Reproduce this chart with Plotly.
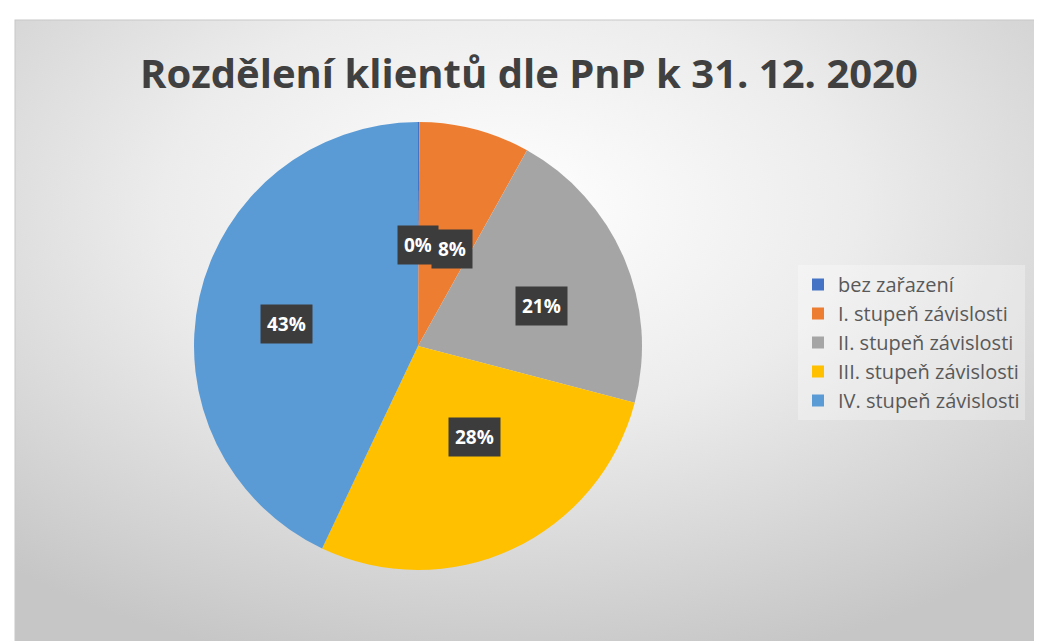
import math
import base64
import plotly.graph_objects as go

# ---- data ----
categories = ["bez zařazení", "I. stupeň závislosti", "II. stupeň závislosti",
              "III. stupeň závislosti", "IV. stupeň závislosti"]
values = [0.1, 8, 21, 28, 43]
colors = ["#4472C4", "#ED7D31", "#A5A5A5", "#FFC000", "#5B9BD5"]
title_text = "Rozdělení klientů dle PnP k 31. 12. 2020"

W, H = 1042, 641
# pie placement (pixels)
cx, cy, R = 410, 338, 224

fig = go.Figure()
fig.add_trace(go.Pie(
    labels=categories, values=values, sort=False, direction="clockwise",
    rotation=0, marker=dict(colors=colors, line=dict(width=0)),
    textinfo="none", hoverinfo="label+percent",
    domain=dict(x=[(cx - R) / W, (cx + R) / W], y=[(H - cy - R) / H, (H - cy + R) / H]),
))

# data labels in dark boxes, positioned at ~half radius along each slice's mid-angle
total = sum(values)
cum = 0
annotations = []
for v in values:
    mid = (cum + v / 2) / total * 2 * math.pi
    cum += v
    px = cx + 0.6 * R * math.sin(mid)
    py = cy - 0.45 * R * math.cos(mid)
    annotations.append(dict(
        x=px / W, y=1 - py / H, xref="paper", yref="paper", showarrow=False,
        text="<b>%d%%</b>" % round(v / total * 100),
        font=dict(family="Open Sans", size=19, color="white"),
        bgcolor="#3C3C3C", borderpad=6, xanchor="center", yanchor="middle",
    ))

# radial gradient background as inline SVG
svg = f'''<svg xmlns="http://www.w3.org/2000/svg" width="{W}" height="{H}">
<defs><radialGradient id="g" cx="48%" cy="30%" r="75%">
<stop offset="0%" stop-color="#FFFFFF"/><stop offset="45%" stop-color="#ECECEC"/>
<stop offset="100%" stop-color="#C6C6C6"/></radialGradient></defs>
<rect x="0" y="0" width="{W}" height="{H}" fill="#FFFFFF"/>
<rect x="7" y="12" width="{W-14}" height="{H-12}" fill="url(#g)" stroke="#C8C8C8" stroke-width="1"/>
</svg>'''
src = "data:image/svg+xml;base64," + base64.b64encode(svg.encode("utf-8")).decode()

fig.update_layout(
    width=W, height=H,
    margin=dict(l=0, r=0, t=0, b=0),
    paper_bgcolor="white",
    images=[dict(source=src, xref="paper", yref="paper", x=0, y=1, sizex=1, sizey=1,
                 xanchor="left", yanchor="top", sizing="stretch", layer="below")],
    title=dict(text=title_text, x=0.5, xanchor="center", y=1 - 66 / H, yanchor="middle",
               font=dict(family="Open Sans", size=40, color="#404040", weight="bold")),
    legend=dict(x=790 / W, y=1 - 257 / H, xanchor="left", yanchor="top",
                font=dict(family="Open Sans", size=20, color="#595959"),
                bgcolor="rgba(255,255,255,0.3)", itemwidth=30, tracegroupgap=0),
    annotations=annotations,
    showlegend=True,
)

fig.write_html("out.html")
